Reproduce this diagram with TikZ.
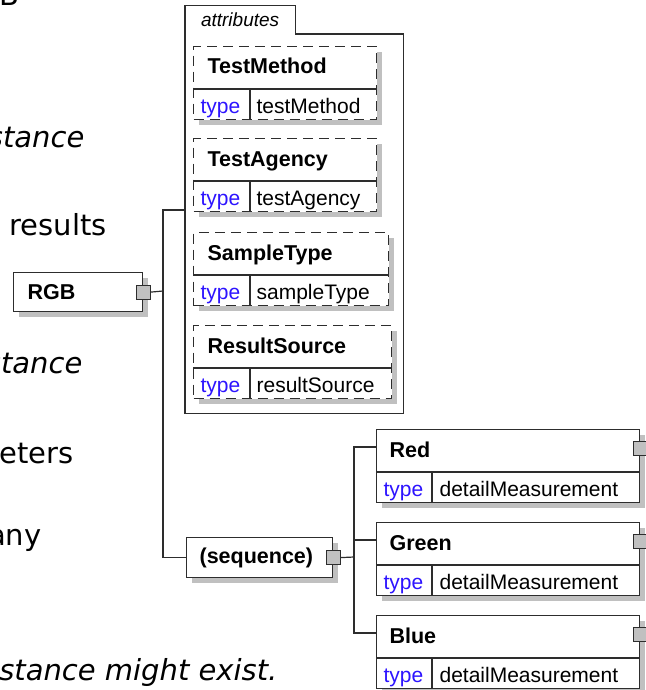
\documentclass[tikz,border=0pt]{standalone}
\usepackage{fontspec}
\setmainfont{Liberation Sans}
\newfontfamily\pagefont{DejaVu Sans}
\usetikzlibrary{positioning, shadows}
\definecolor{lineclr}{RGB}{45,45,45}
\definecolor{shadeclr}{RGB}{192,192,192}
\definecolor{typeblue}{RGB}{45,20,255}

\begin{document}
\begin{tikzpicture}[
    x=1pt, y=-1pt,
    line width=1.2pt,
    elem/.style={draw=lineclr, fill=white, inner sep=0pt, anchor=north west,
                 general shadow={fill=shadeclr, shadow xshift=5pt, shadow yshift=-5pt}},
    elem opt/.style={elem, dash pattern=on 10pt off 6pt},
    name text/.style={inner sep=0pt, font=\fontsize{21.5}{24}\selectfont\bfseries},
    type text/.style={inner sep=0pt, font=\fontsize{21}{24}\selectfont, text=typeblue},
    val text/.style={inner sep=0pt, font=\fontsize{21}{24}\selectfont},
    sep/.style={draw=lineclr, solid},
    plug/.style={draw=lineclr, fill=shadeclr, line width=1pt,
                 minimum size=14pt, inner sep=0pt},
    conn/.style={draw=lineclr, line width=1.2pt},
    page text/.style={inner sep=0pt, font=\pagefont\fontsize{29}{32}\selectfont},
    page italic/.style={page text, font=\pagefont\itshape\fontsize{29}{32}\selectfont},
]

\useasboundingbox (0,0) rectangle (645,690);

% --- text of the page behind, cut at the left edge ---
\begin{scope}
    \clip (0,0) rectangle (645,690);
    \node[page text, anchor=base west] (pg-b) at (-1,6) {B};
    \node[page italic, anchor=base east] (pg-1) at (85,147) {stance};
    \node[page text, anchor=base west] (pg-2) at (9,235) {results};
    \node[page italic, anchor=base east] (pg-3) at (83,373) {stance};
    \node[page text, anchor=base east] (pg-4) at (74,463) {eters};
    \node[page text, anchor=base east] (pg-5) at (42,545) {any};
    \node[page italic, anchor=base east] (pg-6) at (278,680) {stance might exist.};
\end{scope}

% --- RGB root ---
\node[elem, text width=101pt, inner xsep=14pt, minimum height=39pt, align=left,
      font=\fontsize{21.5}{24}\selectfont\bfseries] (rgb) at (13,272) {RGB};
\node[plug] (rgb-p) at (rgb.east) {};
\coordinate (j1) at (163,291);

% --- attributes group ---
\node[anchor=north west, minimum width=217pt, minimum height=378pt, inner sep=0pt]
    (attr) at (185,34) {};
\node[anchor=south west, minimum width=109pt, minimum height=27pt, inner sep=0pt,
      font=\fontsize{19}{22}\selectfont\itshape] (attr-tab) at (attr.north west) {attributes};
\draw[lineclr] (attr.south west) -- (attr-tab.north west) -- (attr-tab.north east)
    -- (attr-tab.south east) -- (attr.north east) -- (attr.south east) -- cycle;
\coordinate (attr-in) at (185,210);

\foreach \nm/\tv/\w/\y in {TestMethod/testMethod/183/46, TestAgency/testAgency/183/138,
                           SampleType/sampleType/195/232, ResultSource/resultSource/198/325} {
    \node[elem opt, minimum width=\w pt, minimum height=73pt] (\nm) at (193,\y) {};
    \node[name text, anchor=base west] (\nm-n) at ([xshift=14pt,yshift=-28pt]\nm.north west) {\nm};
    \draw[sep] ([yshift=-43pt]\nm.north west) -- ([yshift=-43pt]\nm.north east);
    \draw[sep] ([xshift=57pt,yshift=-43pt]\nm.north west) -- ([xshift=57pt]\nm.south west);
    \node[type text, anchor=base west] (\nm-t) at ([xshift=7pt,yshift=7pt]\nm.south west) {type};
    \node[val text, anchor=base west] (\nm-v) at ([xshift=63pt,yshift=7pt]\nm.south west) {\tv};
}

% --- sequence ---
\node[elem, text width=120pt, inner xsep=13pt, minimum height=40pt, align=left,
      font=\fontsize{21.5}{24}\selectfont\bfseries] (seq) at (186,537) {(sequence)};
\node[plug] (seq-p) at (seq.east) {};
\coordinate (j2) at (354,557);

\foreach \c/\y in {Red/429, Green/522, Blue/615} {
    \node[elem, minimum width=263pt, minimum height=73pt] (\c) at (376,\y) {};
    \node[name text, anchor=base west] (\c-n) at ([xshift=13pt,yshift=-28pt]\c.north west) {\c};
    \draw[sep] ([yshift=-43pt]\c.north west) -- ([yshift=-43pt]\c.north east);
    \draw[sep] ([xshift=56pt,yshift=-43pt]\c.north west) -- ([xshift=56pt]\c.south west);
    \node[type text, anchor=base west] (\c-t) at ([xshift=7pt,yshift=7pt]\c.south west) {type};
    \node[val text, anchor=base west] (\c-v) at ([xshift=63pt,yshift=7pt]\c.south west) {detailMeasurement};
    \node[plug] (\c-p) at ([yshift=-19pt]\c.north east) {};
    \coordinate (\c-in) at ([yshift=-18pt]\c.north west);
}

% --- connectors ---
\draw[conn] (rgb-p.east) -- (j1);
\draw[conn] (j1) |- (attr-in);
\draw[conn] (j1) |- (seq.west);
\draw[conn] (seq-p.east) -- (j2);
\foreach \c in {Red,Green,Blue} {
    \draw[conn] (j2) |- (\c-in);
}

\end{tikzpicture}
\end{document}
